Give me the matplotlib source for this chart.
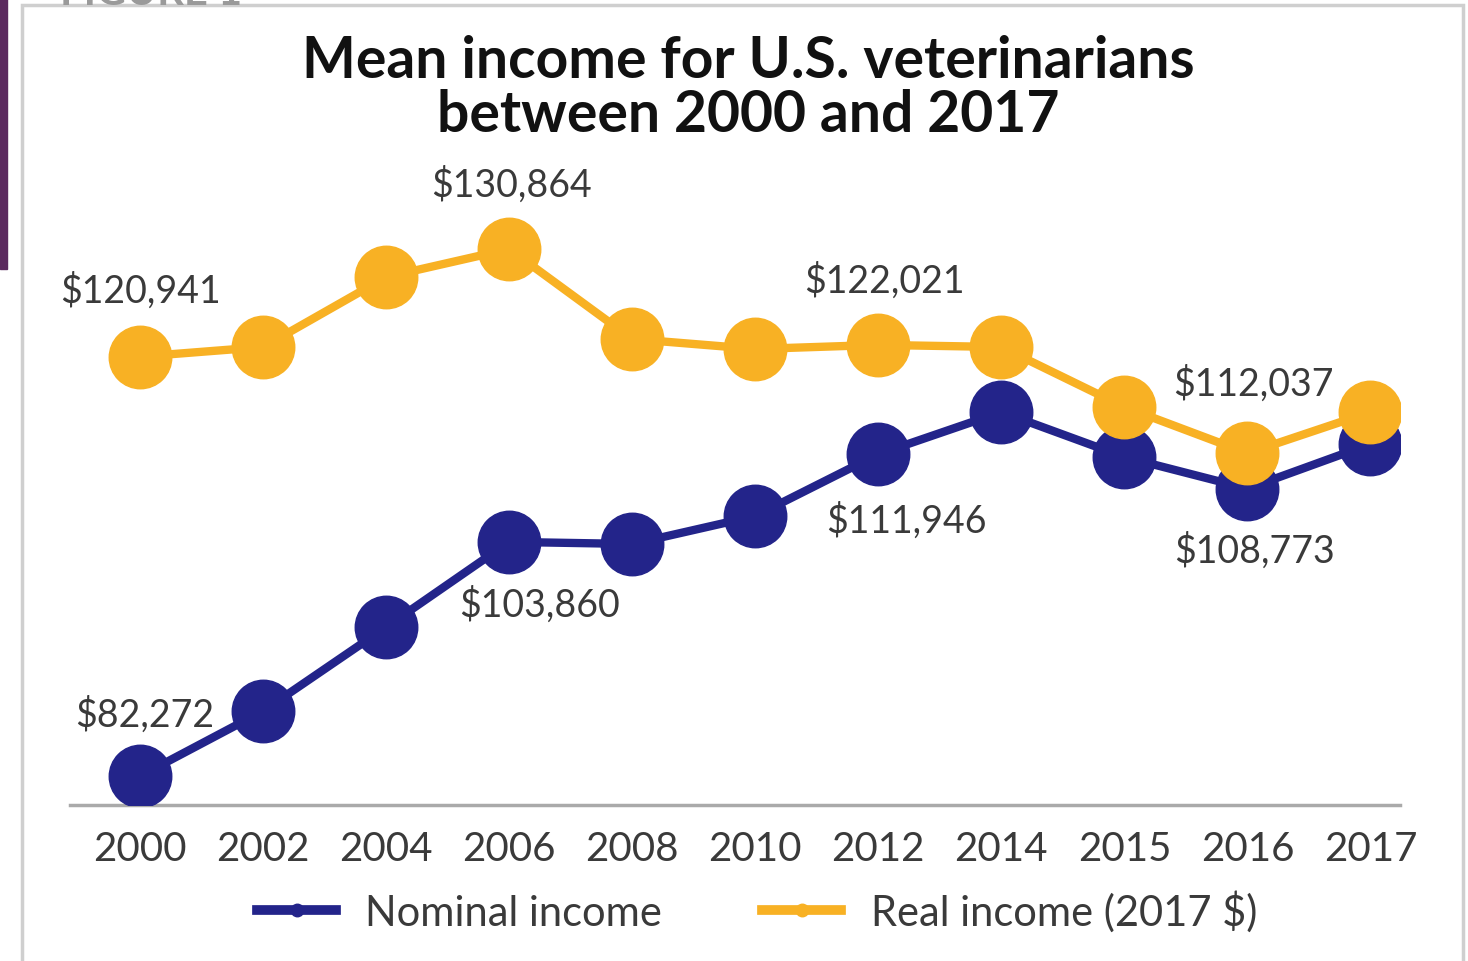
import matplotlib.pyplot as plt
from matplotlib.patches import Rectangle
from matplotlib.lines import Line2D

# data
years = ["2000", "2002", "2004", "2006", "2008", "2010", "2012", "2014", "2015", "2016", "2017"]
real_income = [120941, 121828, 128282, 130864, 122566, 121644, 122021, 121828, 116296, 112037, 115835]
nominal_income = [82272, 88268, 96012, 103860, 103665, 106247, 111946, 115835, 111686, 108773, 112885]

# which points carry a value label: (index, offset x px, offset y px)
real_labels = [(0, 0, 67), (3, 2, 65), (6, 6, 65), (9, 6, 70)]
nominal_labels = [(0, 5, 62), (3, 30, -62), (6, 28, -66), (9, 7, -62)]

GOLD = "#F8B124"
NAVY = "#23248A"
TEXT = "#3a3a3a"

plt.rcParams["font.family"] = ["Lato", "DejaVu Sans"]

fig = plt.figure(figsize=(14.68, 9.62), dpi=100)

# panel frame, purple side bar and the cut-off figure heading
fig.patches.append(Rectangle((22 / 1468, -0.01), (1463 - 22) / 1468, (962 - 6 + 10) / 962,
                             transform=fig.transFigure, fill=False,
                             edgecolor="#cfcfcf", linewidth=2.5))
fig.patches.append(Rectangle((0, 1 - 270 / 962), 7 / 1468, 270 / 962,
                             transform=fig.transFigure, color="#5b2a5e"))
fig.text(60 / 1468, 1 - 5 / 962, "FIGURE 1", fontsize=30, color="#9a9a9a",
         fontweight="bold", ha="left", va="baseline")

ax = fig.add_axes([70 / 1468, 156 / 962, 1330 / 1468, 636 / 962])
x = list(range(len(years)))

ax.plot(x, nominal_income, color=NAVY, linewidth=6, marker="o", markersize=45,
        zorder=3)
ax.plot(x, real_income, color=GOLD, linewidth=6, marker="o", markersize=45,
        zorder=4)

for i, dx, dy in real_labels:
    ax.annotate(f"${real_income[i]:,}", (x[i], real_income[i]),
                xytext=(dx * 0.72, dy * 0.72), textcoords="offset points",
                ha="center", va="center", fontsize=27, color=TEXT, zorder=5)
for i, dx, dy in nominal_labels:
    ax.annotate(f"${nominal_income[i]:,}", (x[i], nominal_income[i]),
                xytext=(dx * 0.72, dy * 0.72), textcoords="offset points",
                ha="center", va="center", fontsize=27, color=TEXT, zorder=5)

ax.set_xlim(-0.57, 10.24)
ax.set_ylim(79600, 138240)
ax.set_xticks(x)
ax.set_xticklabels(years, fontsize=29, color=TEXT)
ax.tick_params(axis="x", length=0, pad=18)
ax.set_yticks([])
for side in ["top", "right", "left"]:
    ax.spines[side].set_visible(False)
ax.spines["bottom"].set_color("#aaaaaa")
ax.spines["bottom"].set_linewidth(2.5)

fig.suptitle("Mean income for U.S. veterinarians\nbetween 2000 and 2017",
             x=748 / 1468, y=1 - 35 / 962, fontsize=41, fontweight="bold",
             color="#111111", linespacing=1.03, va="top")

handles = [
    Line2D([], [], color=NAVY, linewidth=7, marker="o", markersize=9),
    Line2D([], [], color=GOLD, linewidth=7, marker="o", markersize=9),
]
fig.legend(handles, ["Nominal income", "Real income (2017 $)"],
           loc="center", bbox_to_anchor=(757 / 1468, 1 - 912 / 962), ncol=2,
           frameon=False, fontsize=30, labelcolor=TEXT, handlelength=1.9,
           columnspacing=2.4, handletextpad=0.7)

fig.savefig("out.png", dpi=100)
